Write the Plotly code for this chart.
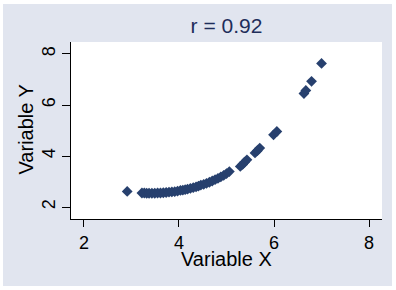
import plotly.graph_objects as go

# Data
x_vals = [2.91, 3.22, 3.27, 3.32, 3.37, 3.43, 3.49, 3.55, 3.61, 3.67, 3.73, 3.79,
          3.85, 3.91, 3.97, 4.03, 4.08, 4.13, 4.18, 4.24, 4.30, 4.36, 4.41, 4.46,
          4.52, 4.58, 4.64, 4.70, 4.76, 4.82, 4.88, 4.94, 5.00, 5.06, 5.29, 5.34,
          5.38, 5.43, 5.60, 5.65, 5.70, 5.99, 6.06, 6.63, 6.67, 6.79, 7.00]
y_vals = [2.61, 2.55, 2.55, 2.54, 2.54, 2.54, 2.54, 2.55, 2.55, 2.56, 2.57, 2.58,
          2.59, 2.60, 2.62, 2.65, 2.66, 2.68, 2.70, 2.73, 2.76, 2.79, 2.82, 2.86,
          2.89, 2.93, 2.97, 3.02, 3.07, 3.12, 3.18, 3.24, 3.31, 3.39, 3.59, 3.67,
          3.76, 3.85, 4.12, 4.21, 4.31, 4.83, 4.96, 6.45, 6.57, 6.93, 7.63]
x_ticks = [2, 4, 6, 8]
y_ticks = [2, 4, 6, 8]
title_text = "r = 0.92"
x_title = "Variable X"
y_title = "Variable Y"

FONT = "Liberation Sans, Arial, sans-serif"
BG = "#e1e5ef"
MARK = "#27406e"
NAVY = "#1e2d5a"

W, H = 396, 290
ML, MR, MT, MB = 71, 14, 42, 71
PW, PH = W - ML - MR, H - MT - MB


def px_x(p):
    return (p - ML) / PW


def px_y(p):
    return (H - MB - p) / PH


fig = go.Figure()
fig.add_trace(go.Scatter(
    x=x_vals, y=y_vals, mode="markers",
    marker=dict(symbol="diamond", size=8.3, color=MARK, line=dict(width=0)),
    showlegend=False, hoverinfo="skip",
))

fig.update_layout(
    width=W, height=H,
    margin=dict(l=ML, r=MR, t=MT, b=MB, pad=0),
    paper_bgcolor="white",
    plot_bgcolor="white",
    font=dict(family=FONT, color="black"),
    title=dict(text=title_text, x=0.5, xref="paper", xanchor="center",
               y=1 - 25.5 / H, yref="container", yanchor="middle",
               font=dict(size=21, color=NAVY, family=FONT)),
    xaxis=dict(range=[1.727, 8.273], tickvals=x_ticks, ticks="outside",
               ticklen=7, tickwidth=1, tickcolor="black", showline=True,
               linecolor="black", linewidth=1, showgrid=False, zeroline=False,
               tickfont=dict(size=18, color="black", family=FONT)),
    yaxis=dict(range=[1.53, 8.47], tickvals=y_ticks, ticks="outside",
               ticklen=8, tickwidth=1, tickcolor="black", showline=True,
               linecolor="black", linewidth=1, showgrid=False, zeroline=False,
               tickangle=-90,
               tickfont=dict(size=18, color="black", family=FONT)),
    shapes=[
        dict(type="rect", xref="paper", yref="paper", layer="below",
             x0=px_x(3), x1=px_x(392), y0=px_y(286), y1=px_y(4),
             fillcolor=BG, line=dict(width=0)),
        dict(type="rect", xref="paper", yref="paper", layer="below",
             x0=0, x1=1, y0=0, y1=1, fillcolor="white", line=dict(width=0)),
    ],
    annotations=[
        dict(text=x_title, xref="paper", yref="paper", x=0.5, y=px_y(259),
             xanchor="center", yanchor="middle", showarrow=False,
             font=dict(size=20, color="black", family=FONT)),
        dict(text=y_title, xref="paper", yref="paper", x=px_x(25.5), y=px_y(130),
             xanchor="center", yanchor="middle", showarrow=False, textangle=-90,
             font=dict(size=20, color="black", family=FONT)),
    ],
)

fig.write_html("out.html")
